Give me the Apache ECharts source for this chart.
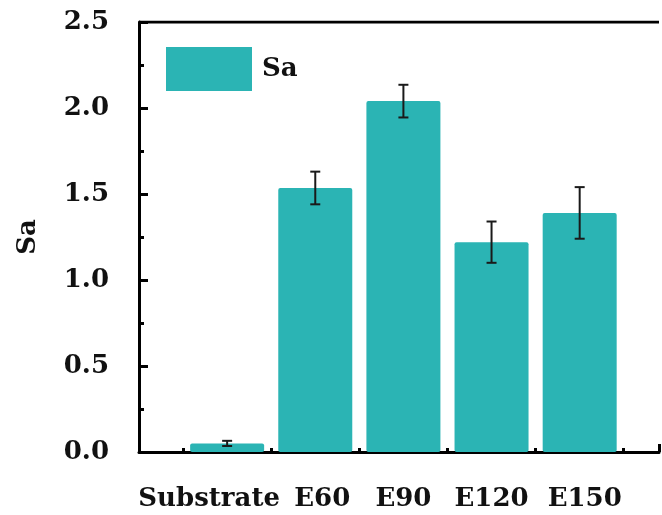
<!DOCTYPE html>
<html>
<head>
<meta charset="utf-8">
<script src="https://cdn.jsdelivr.net/npm/echarts@6/dist/echarts.min.js"></script>
<style>
  html, body { margin: 0; padding: 0; background: #fff; }
  #chart { width: 662px; height: 515px; }
</style>
</head>
<body>
<div id="chart"></div>
<script>
const categories = ['Substrate', 'E60', 'E90', 'E120', 'E150']
const sa = [0.05, 1.535, 2.04, 1.22, 1.39]
const saErr = [0.015, 0.095, 0.095, 0.12, 0.15]
const yTicks = [0, 0.5, 1.0, 1.5, 2.0, 2.5]

const font = 'DejaVu Serif, serif'
const teal = '#2bb4b4'

// bars sit on positions 1..5 of a numeric x axis (plot is cut off on the right)
const barData = sa.map((v, i) => [i + 1, v])
const errData = sa.map((v, i) => [i + 1, v - saErr[i], v + saErr[i]])

const labelPad = { Substrate: [0, 36, 0, 0], E60: [0, 0, 0, 14], E150: [0, 0, 0, 10] }
const txt = { fontFamily: font, fontWeight: 'bold', fontSize: 26, color: '#111' }

let option = {
  animation: false,
  grid: { left: 139, right: 0, top: 22, bottom: 63 },
  legend: {
    data: [{ name: 'Sa', icon: 'rect' }],
    left: 161,
    top: 42,
    itemWidth: 86,
    itemHeight: 44,
    itemGap: 0,
    selectedMode: false,
    itemStyle: { borderRadius: 0 },
    textStyle: { ...txt, padding: [0, 0, 0, 5] },
  },
  xAxis: {
    type: 'value',
    min: 0,
    max: 5.9,
    interval: 1,
    splitLine: { show: false },
    axisLine: { lineStyle: { color: '#000', width: 3 } },
    axisTick: { inside: true, length: 8, lineStyle: { color: '#000', width: 3 } },
    minorTick: { show: true, splitNumber: 2, length: 4, lineStyle: { color: '#000', width: 3 } },
    axisLabel: {
      margin: 34,
      ...txt,
      formatter: (v) => {
        const name = categories[v - 1]
        if (!name) return ''
        return labelPad[name] ? `{p${v}|${name}}` : name
      },
      rich: {
        p1: { ...txt, padding: labelPad.Substrate },
        p2: { ...txt, padding: labelPad.E60 },
        p5: { ...txt, padding: labelPad.E150 },
      },
    },
  },
  yAxis: {
    type: 'value',
    min: 0,
    max: 2.5,
    interval: 0.5,
    name: 'Sa',
    nameLocation: 'middle',
    nameGap: 98,
    nameTextStyle: txt,
    splitLine: { show: false },
    axisLine: { show: true, lineStyle: { color: '#000', width: 3 } },
    axisTick: { inside: true, length: 9, lineStyle: { color: '#000', width: 3 } },
    minorTick: { show: true, splitNumber: 2, length: 5, lineStyle: { color: '#000', width: 3 } },
    axisLabel: {
      margin: 30,
      ...txt,
      formatter: (v) => yTicks.includes(v) ? v.toFixed(1) : '',
    },
  },
  series: [
    {
      name: 'Sa',
      type: 'bar',
      barWidth: 74,
      itemStyle: { color: teal, borderRadius: 2 },
      data: barData,
    },
    {
      // error bars
      type: 'custom',
      z: 5,
      renderItem: (params, api) => {
        const x = api.value(0)
        const lo = api.coord([x, api.value(1)])
        const hi = api.coord([x, api.value(2)])
        const half = 5
        const style = { stroke: '#1a1a1a', lineWidth: 2 }
        return {
          type: 'group',
          children: [
            { type: 'line', shape: { x1: lo[0], y1: lo[1], x2: hi[0], y2: hi[1] }, style },
            { type: 'line', shape: { x1: hi[0] - half, y1: hi[1], x2: hi[0] + half, y2: hi[1] }, style },
            { type: 'line', shape: { x1: lo[0] - half, y1: lo[1], x2: lo[0] + half, y2: lo[1] }, style },
          ],
        }
      },
      data: errData,
    },
    {
      // top frame line
      type: 'line',
      data: [[0, 2.5], [5.9, 2.5]],
      symbol: 'none',
      lineStyle: { color: '#000', width: 3 },
      silent: true,
    },
  ],
}

let myChart = echarts.init(document.getElementById('chart'))
myChart.setOption(option)
</script>
</body>
</html>
